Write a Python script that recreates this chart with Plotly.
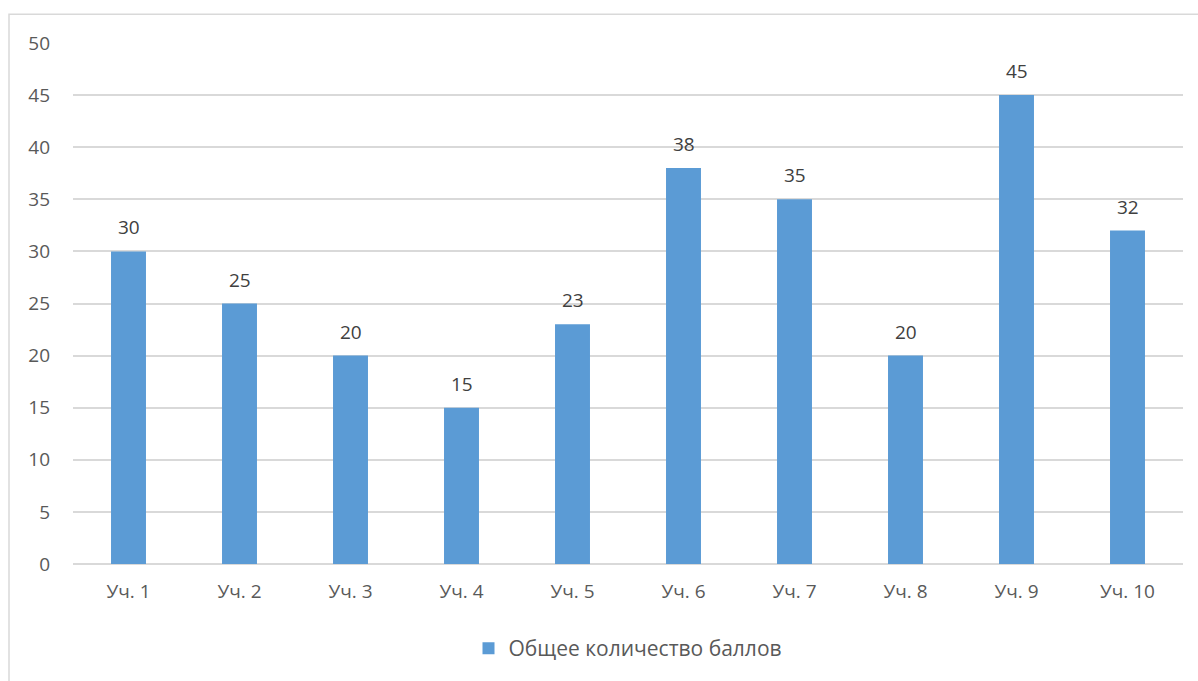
import plotly.graph_objects as go

categories = ["Уч. 1", "Уч. 2", "Уч. 3", "Уч. 4", "Уч. 5", "Уч. 6", "Уч. 7", "Уч. 8", "Уч. 9", "Уч. 10"]
values = [30, 25, 20, 15, 23, 38, 35, 20, 45, 32]
series_name = "Общее количество баллов"

W, H = 1198, 681
L, R, T, B = 73, 15, 43, 114
pw, ph = W - L - R, H - T - B
FS = 19

fig = go.Figure()
fig.add_trace(go.Bar(
    x=categories, y=values, name=series_name,
    marker=dict(color="#5B9BD5", line=dict(width=0)),
    width=0.315,
))
for c, v in zip(categories, values):
    fig.add_annotation(x=c, y=v, text=str(v), showarrow=False, yshift=24,
                       font=dict(size=FS, color="#404040", family="Open Sans"))

fig.update_layout(
    width=W, height=H,
    margin=dict(l=L, r=R, t=T, b=B),
    paper_bgcolor="white", plot_bgcolor="white",
    font=dict(family="Open Sans", size=FS, color="#595959"),
    showlegend=True,
    legend=dict(orientation="h", x=0.5, xanchor="center", y=-(652 - 567) / ph, yanchor="middle",
                font=dict(size=21, color="#595959"), itemwidth=30),
    xaxis=dict(showgrid=False, showline=False, ticks="", ticklabelstandoff=14,
               tickfont=dict(size=FS, color="#595959")),
    yaxis=dict(range=[0, 50], dtick=5, showgrid=True, gridcolor="#d9d9d9", gridwidth=1.5,
               zeroline=True, zerolinecolor="#d9d9d9", zerolinewidth=1.5,
               showline=False, ticks="", ticklabelstandoff=22,
               tickfont=dict(size=FS, color="#595959")),
    shapes=[dict(type="rect", xref="paper", yref="paper",
                 x0=(9 - L) / pw, x1=1.2, y0=-0.5, y1=(H - B - 14) / ph,
                 line=dict(color="#d9d9d9", width=1.5), fillcolor="rgba(0,0,0,0)", layer="below")],
)

fig.write_html("out.html")
